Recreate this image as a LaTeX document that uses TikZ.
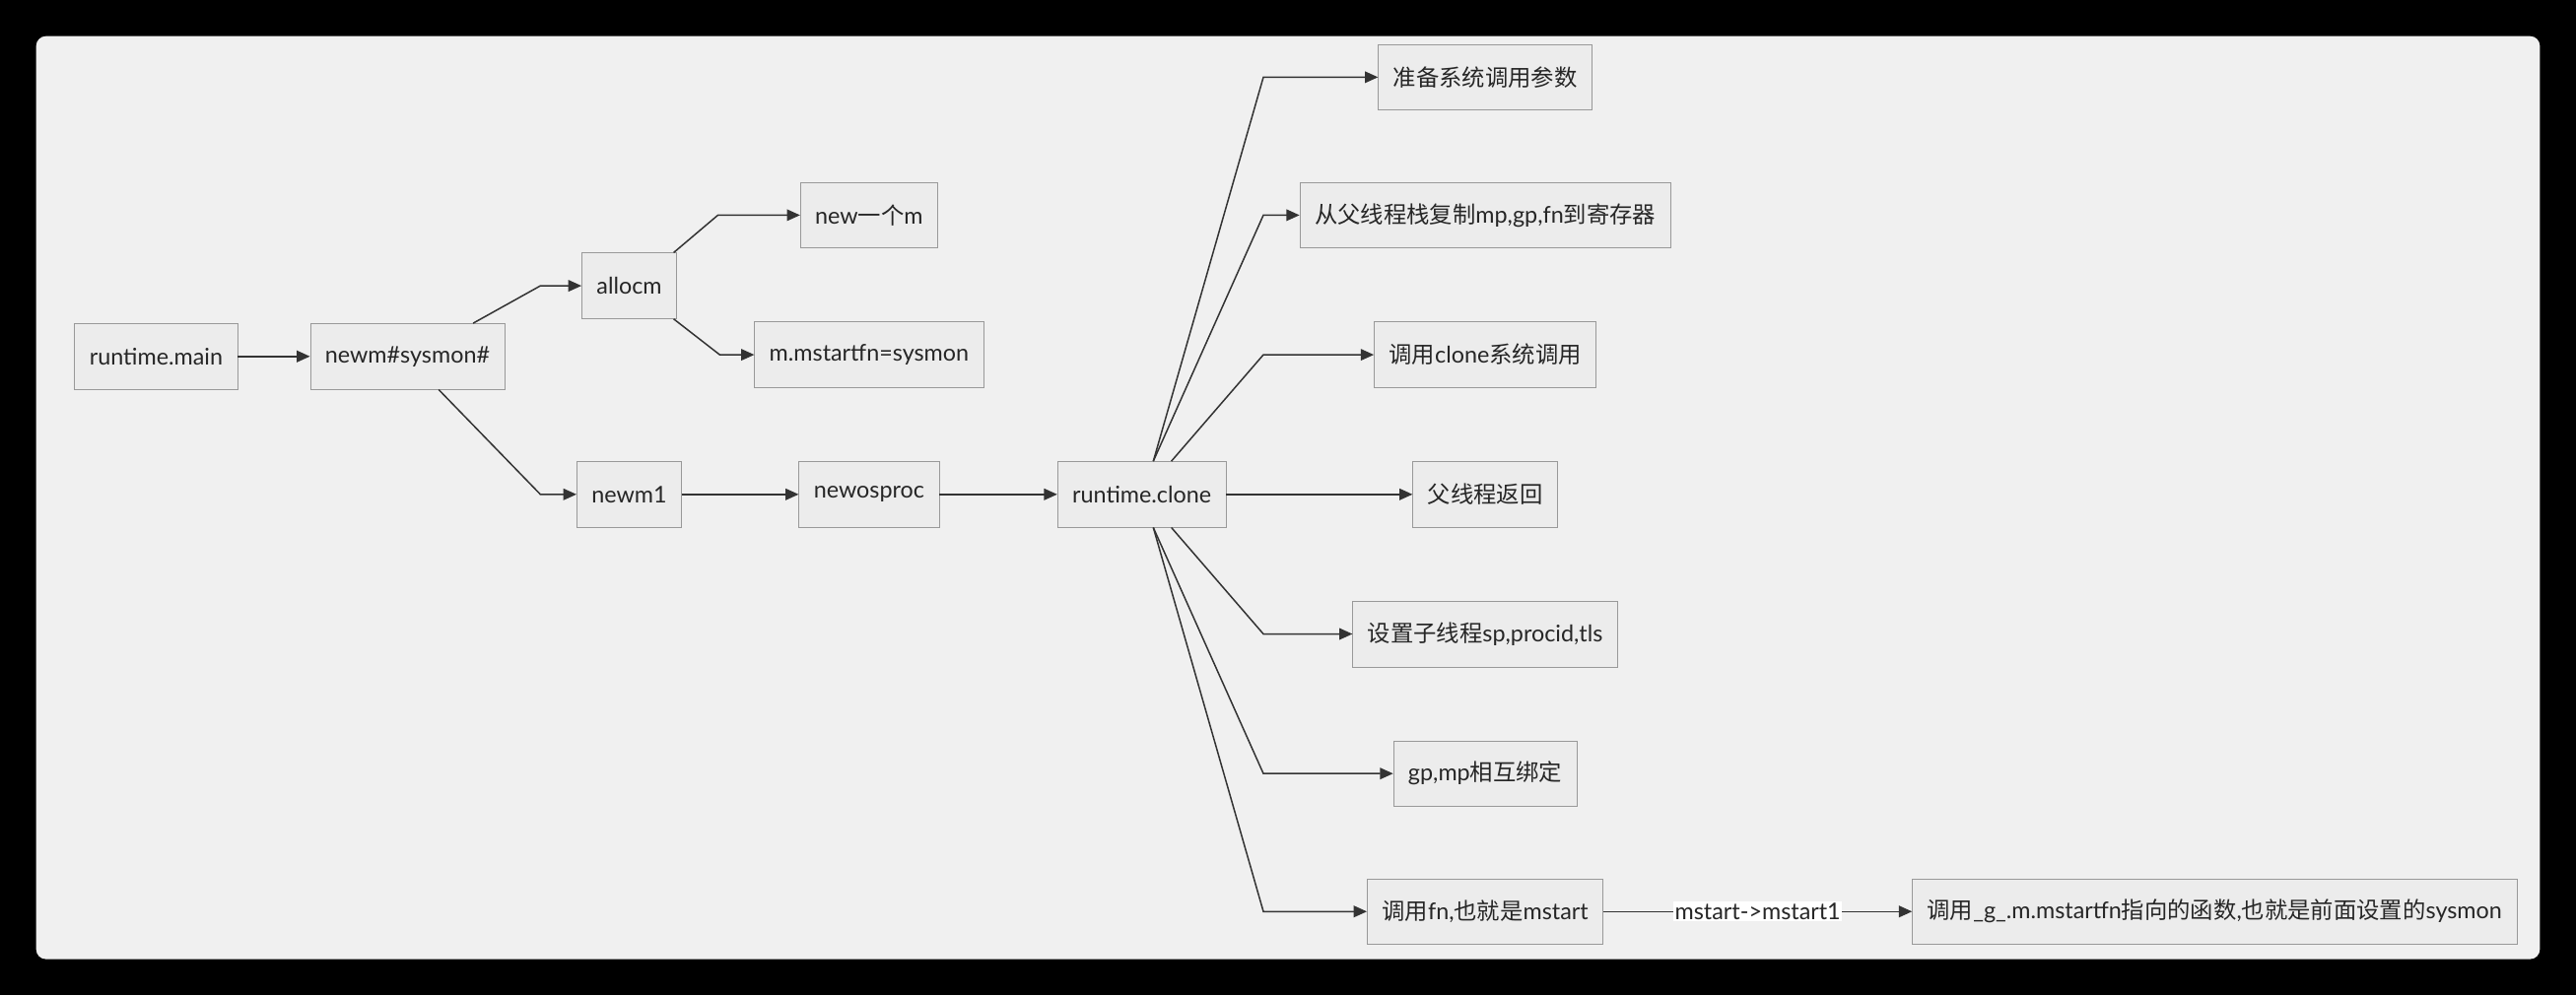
\documentclass[tikz,border=0pt]{standalone}
\usepackage{fontspec}
\setmainfont{Lato}
\newfontfamily\cjk{Noto Sans CJK SC}
\usetikzlibrary{arrows.meta}
\definecolor{boxfill}{HTML}{ECECEC}
\definecolor{boxline}{HTML}{999999}
\definecolor{canvas}{HTML}{F0F0F0}
\definecolor{edgeline}{HTML}{333333}
\tikzset{
  box/.style={draw=boxline, fill=boxfill, minimum height=40pt, inner xsep=9pt,
    font=\fontsize{14}{16}\selectfont, text=black!85},
  arr/.style={draw=edgeline, line width=0.9pt, -{Triangle[length=8pt,width=7pt]}},
}
\begin{document}
\begin{tikzpicture}[x=1pt,y=-1pt]
  \fill[black] (0,0) rectangle (1568,606);
  \fill[canvas, rounded corners=6pt] (22,22) rectangle (1546,584);
  \useasboundingbox (0,0) rectangle (1568,606);

  % left part
  \node[box] (main) at (95,217) {runtime.main};
  \node[box] (newm) at (248,217) {newm\#sysmon\#};
  \node[box] (allocm) at (383,174) {allocm};
  \node[box] (newone) at (529,131) {new{\cjk 一个}m};
  \node[box] (startfn) at (529,216) {m.mstartfn=sysmon};
  \node[box] (newm1) at (383,301) {newm1};
  \node[box] (osproc) at (529,301) {newosproc};
  \node[box] (clone) at (695,301) {runtime.clone};

  % right part
  \node[box] (prep) at (904,47) {\cjk 准备系统调用参数};
  \node[box] (copy) at (904,131) {{\cjk 从父线程栈复制}mp,gp,fn{\cjk 到寄存器}};
  \node[box] (sysclone) at (904,216) {{\cjk 调用}clone{\cjk 系统调用}};
  \node[box] (parent) at (904,301) {\cjk 父线程返回};
  \node[box] (child) at (904,386) {{\cjk 设置子线程}sp,procid,tls};
  \node[box] (bind) at (904,471) {gp,mp{\cjk 相互绑定}};
  \node[box] (callfn) at (904,555) {{\cjk 调用}fn,{\cjk 也就是}mstart};
  \node[box] (sysmon) at (1348,555) {{\cjk 调用}\_g\_.m.mstartfn{\cjk 指向的函数},{\cjk 也就是前面设置的}sysmon};

  \draw[arr] (main) -- (newm);
  \draw[arr] ([xshift=40pt]newm.north) -- ([xshift=-25pt]allocm.west) -- (allocm.west);
  \draw[arr] ([xshift=19pt]newm.south) -- ([xshift=-22pt]newm1.west) -- (newm1.west);
  \draw[arr] ([xshift=-2pt]allocm.north east) -- ([xshift=-50pt]newone.west) -- (newone.west);
  \draw[arr] ([xshift=-2pt]allocm.south east) -- ([xshift=-21pt]startfn.west) -- (startfn.west);
  \draw[arr] (newm1) -- (osproc);
  \draw[arr] (osproc) -- (clone);

  \draw[arr] ([xshift=7pt]clone.north) -- (769,47) -- (prep.west);
  \draw[arr] ([xshift=7pt]clone.north) -- (769,131) -- (copy.west);
  \draw[arr] ([xshift=18pt]clone.north) -- (769,216) -- (sysclone.west);
  \draw[arr] (clone.east) -- (parent.west);
  \draw[arr] ([xshift=18pt]clone.south) -- (769,386) -- (child.west);
  \draw[arr] ([xshift=7pt]clone.south) -- (769,471) -- (bind.west);
  \draw[arr] ([xshift=7pt]clone.south) -- (769,555) -- (callfn.west);
  \draw[arr] (callfn) -- node[fill=white, inner sep=1pt, font=\fontsize{14}{16}\selectfont, text=black!85] {mstart->mstart1} (sysmon);
\end{tikzpicture}
\end{document}
